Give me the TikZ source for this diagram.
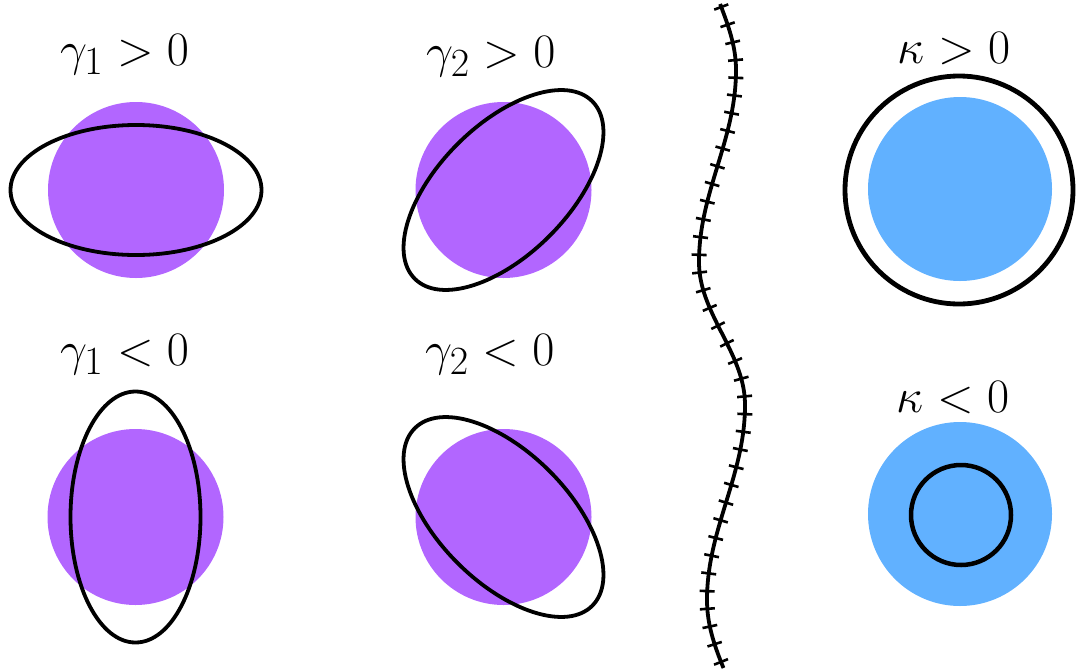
\documentclass[tikz,border=0pt]{standalone}
\definecolor{purp}{RGB}{178,102,255}
\definecolor{sky}{RGB}{97,177,255}
\newcommand{\biglbl}[1]{\scalebox{1.93}{\Huge$#1$}}
\begin{document}
\begin{tikzpicture}[x=1pt,y=-1pt,
  shearline/.style={draw=black,line width=3.8pt},
  convline/.style={draw=black,line width=4.8pt},
  lbl/.style={anchor=base,inner sep=0pt},
  wave/.style={line width=3.8pt},
  tickmark/.style={line width=2.6pt},
  declare function={
    wx(\t)=(\t<70) ? (705+15.5*(1-cos(((\t+60)/130)*180))) :
      ((\t<262) ? (736-18.5*(1-cos(((\t-70)/192)*180))) :
      ((\t<405) ? (699+23*(1-cos(((\t-262)/143)*180))) :
      ((\t<600) ? (745-19*(1-cos(((\t-405)/195)*180))) :
      (707+21.5*(1-cos(((\t-600)/160)*180))))));
    wd(\t)=(\t<70) ? (15.5*pi/130*sin(((\t+60)/130)*180)) :
      ((\t<262) ? (-18.5*pi/192*sin(((\t-70)/192)*180)) :
      ((\t<405) ? (23*pi/143*sin(((\t-262)/143)*180)) :
      ((\t<600) ? (-19*pi/195*sin(((\t-405)/195)*180)) :
      (21.5*pi/160*sin(((\t-600)/160)*180))))));
  }]
\useasboundingbox (0,0) rectangle (1076,670);
% purple sources
\fill[purp] (136,190) circle[radius=88];
\fill[purp] (503.5,190) circle[radius=88];
\fill[purp] (135.5,517) circle[radius=88];
\fill[purp] (503.5,517) circle[radius=88];
% sheared ellipses
\draw[shearline] (136,190) ellipse[x radius=125.5,y radius=65];
\draw[shearline,rotate around={45:(503.5,190)}] (503.5,190) ellipse[x radius=125.5,y radius=65];
\draw[shearline,rotate around={90:(135.5,517)}] (135.5,517) ellipse[x radius=125.5,y radius=65];
\draw[shearline,rotate around={-45:(503.5,517)}] (503.5,517) ellipse[x radius=125.5,y radius=65];
% convergence
\fill[sky] (960,189) circle[radius=92];
\draw[convline] (959,190) circle[radius=114];
\fill[sky] (960,514) circle[radius=92];
\draw[shearline,line width=4.5pt] (961,515) circle[radius=50];
% labels
\node[lbl] (g1p) at (124.5,65) {\biglbl{\gamma_1>0}};
\node[lbl] (g2p) at (491,67) {\biglbl{\gamma_2>0}};
\node[lbl] (kp) at (954,63) {\biglbl{\kappa>0}};
\node[lbl] (g1m) at (124.5,365) {\biglbl{\gamma_1<0}};
\node[lbl] (g2m) at (490,365) {\biglbl{\gamma_2<0}};
\node[lbl] (km) at (953,412) {\biglbl{\kappa<0}};
% wavy separator
\draw[wave] plot[domain=4:668,samples=240,variable=\yy] ({wx(\yy)},\yy);
\foreach \n in {0,...,37}{
  \pgfmathsetmacro\ty{7+17.7*\n}
  \pgfmathsetmacro\tx{wx(\ty)}
  \pgfmathsetmacro\dd{wd(\ty)}
  \pgfmathsetmacro\ux{7.5/sqrt(1+(\dd)*(\dd))}
  \pgfmathsetmacro\uy{0-(\dd)*(\ux)}
  \draw[tickmark] ({\tx+(\ux)},{\ty+(\uy)}) -- ({\tx-(\ux)},{\ty-(\uy)});
}
\end{tikzpicture}
\end{document}
